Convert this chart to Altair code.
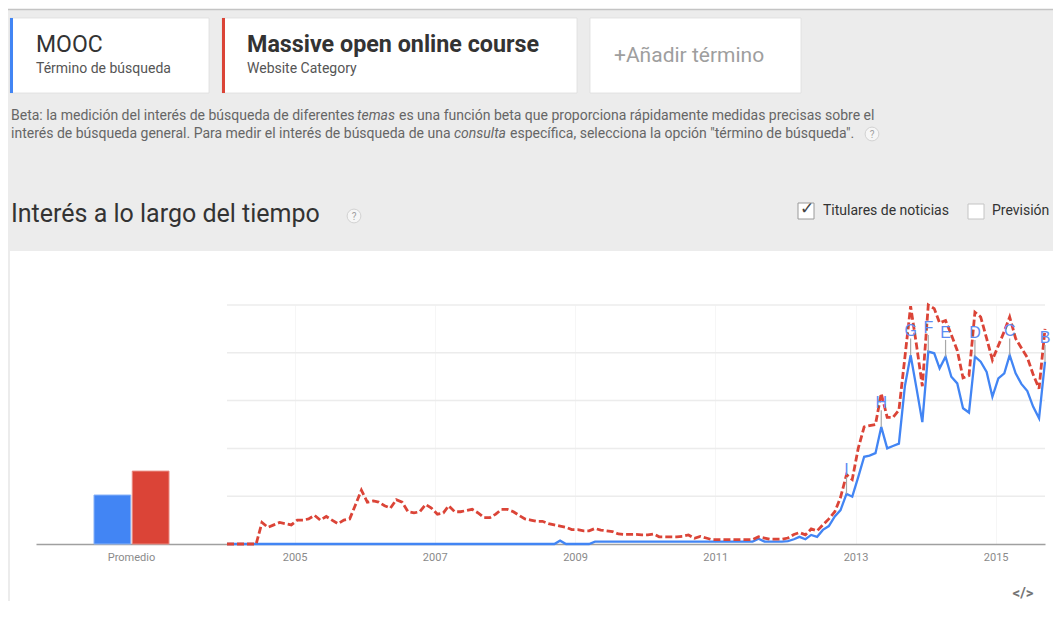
import altair as alt
import pandas as pd

# ---------------- data ----------------
series_names = ["MOOC", "Massive open online course"]
first_month = "2004-01-01"
last_month = "2015-09-01"

mooc_2004 = [0, 0, 0, 0, 0, 0, 0, 0, 0, 0, 0, 0]
mooc_2005 = [0, 0, 0, 0, 0, 0, 0, 0, 0, 0, 0, 0]
mooc_2006 = [0, 0, 0, 0, 0, 0, 0, 0, 0, 0, 0, 0]
mooc_2007 = [0, 0, 0, 0, 0, 0, 0, 0, 0, 0, 0, 0]
mooc_2008 = [0, 0, 0, 0, 0, 0, 0, 0, 0, 1.4, 0, 0]
mooc_2009 = [0, 0, 0, 1, 1, 1, 1, 1, 1, 1, 1, 1]
mooc_2010 = [1, 1, 1, 1, 1, 1, 1, 1, 1, 1, 1, 1]
mooc_2011 = [1, 1, 1, 1, 1, 1, 1, 2.2, 1, 1, 1, 1]
mooc_2012 = [1.2, 2, 3, 2, 3.8, 3, 5.9, 7.5, 11.5, 14.2, 21, 19.8]
mooc_2013 = [28, 36.5, 37, 38, 49, 40, 41, 42, 66, 79, 65, 51]
mooc_2014 = [80.5, 79.8, 73.5, 78.4, 70, 67.2, 56.8, 55, 78.4, 76.3, 72, 61.6]
mooc_2015 = [69.3, 71.4, 79, 71.4, 67, 64, 57.5, 52.6, 76.3]

massive_2004 = [0, 0, 0, 0, 0, 0, 9, 7, 8, 9, 8.5, 8]
massive_2005 = [10, 10, 10.5, 12, 10, 11.5, 10, 8.5, 10, 10.5, 16.5, 22.5]
massive_2006 = [17.5, 18, 17.5, 16, 15, 18.5, 17.5, 13.5, 13, 13.5, 16.5, 15]
massive_2007 = [12.5, 13, 16, 13.5, 13.5, 14, 14.5, 13, 11, 11, 12.5, 14.5]
massive_2008 = [14.5, 13.5, 12, 10.5, 10, 9.5, 9.5, 8.5, 8, 7.5, 7, 6]
massive_2009 = [6, 5.5, 5.5, 6.5, 5.8, 5.5, 5.2, 4.2, 4, 4, 4, 3.8]
massive_2010 = [3.8, 4.2, 3, 3, 3, 3, 3.2, 3.8, 2.4, 3.2, 2.5, 1.8]
massive_2011 = [1.8, 1.8, 1.8, 1.8, 1.8, 1.8, 1.8, 3, 2.5, 2, 2, 2]
massive_2012 = [2.5, 4, 4.8, 3.8, 6.3, 5.5, 8, 10.5, 13.5, 19.5, 29, 27]
massive_2013 = [40, 49, 49.5, 50, 63, 53, 53, 56, 78, 99.5, 83, 66]
massive_2014 = [100, 98.5, 92.5, 93.5, 87.5, 81, 69.5, 70.5, 97, 95, 86, 77]
massive_2015 = [83, 89, 95, 86, 82, 78, 71, 65, 90]

promedio = [20.5, 30.5]
promedio_label = "Promedio"

marker_letters = ["I", "H", "G", "F", "E", "D", "C", "B"]
marker_months = ["2012-11", "2013-05", "2013-10", "2014-01", "2014-04", "2014-09", "2015-03", "2015-09"]

year_ticks = [2005, 2007, 2009, 2011, 2013, 2015]
grid_values = [20, 40, 60, 80, 100]

mooc = (mooc_2004 + mooc_2005 + mooc_2006 + mooc_2007 + mooc_2008 + mooc_2009 +
        mooc_2010 + mooc_2011 + mooc_2012 + mooc_2013 + mooc_2014 + mooc_2015)
massive = (massive_2004 + massive_2005 + massive_2006 + massive_2007 + massive_2008 +
           massive_2009 + massive_2010 + massive_2011 + massive_2012 + massive_2013 +
           massive_2014 + massive_2015)

month_starts = pd.date_range(first_month, last_month, freq="MS")
month_keys = [d.strftime("%Y-%m") for d in month_starts]
fechas = [(d + pd.Timedelta(days=14)).strftime("%Y-%m-%d") for d in month_starts]

line_df = pd.DataFrame({"fecha": fechas, "mooc": mooc, "massive": massive})
idx = {k: i for i, k in enumerate(month_keys)}
marker_df = pd.DataFrame({
    "letra": marker_letters,
    "fecha": [fechas[idx[m]] for m in marker_months],
    "valor": [mooc[idx[m]] for m in marker_months],
})
bar_df = pd.DataFrame({"grupo": [promedio_label] * 2, "serie": series_names, "valor": promedio})
grid_df = pd.DataFrame({"g": grid_values})

# ---------------- style ----------------
BLUE = "#4285f4"
RED = "#db4437"
GRAY_BG = "#ececec"
FONT = "Roboto"
W, H = 818, 239

x_scale = alt.Scale(domain=[alt.DateTime(year=2004, month=1, date=15),
                            alt.DateTime(year=2015, month=9, date=15)])
y_scale = alt.Scale(domain=[0, 100], nice=False, zero=True)
x_axis = alt.Axis(values=[alt.DateTime(year=y, month=1, date=1) for y in year_ticks],
                  format="%Y", orient="bottom", title=None, ticks=False,
                  grid=True, gridColor="#f6f6f6", domainColor="#a0a0a0", domainWidth=1.5,
                  labelColor="#8a8a8a", labelFont=FONT, labelFontSize=11, labelPadding=7)

# ---------------- UI helpers ----------------
def one():
    return pd.DataFrame({"k": [0]})


def txt(s, x, y, size, color, weight="normal", style="normal", font=FONT, align="left"):
    return alt.Chart(pd.DataFrame({"t": [s]})).mark_text(
        align=align, baseline="middle", fontSize=size, color=color,
        fontWeight=weight, fontStyle=style, font=font
    ).encode(x=alt.value(x), y=alt.value(y), text="t:N")


def box(x, x2, y, y2, fill, stroke=None, sw=0.0):
    kw = dict(fill=fill)
    if stroke:
        kw.update(stroke=stroke, strokeWidth=sw)
    return alt.Chart(one()).mark_rect(**kw).encode(
        x=alt.value(x), x2=alt.value(x2), y=alt.value(y), y2=alt.value(y2))


def qicon(x, y):
    c = alt.Chart(one()).mark_point(shape="circle", filled=True, fill="#f6f6f6",
                                    stroke="#d2d2d2", strokeWidth=1, size=190, opacity=1).encode(
        x=alt.value(x), y=alt.value(y))
    return [c, txt("?", x, y + 0.5, 10, "#a0a0a0", align="center")]


ui = []
# gray page header area
ui.append(box(-219, 826, -295, -54, GRAY_BG))
ui.append(box(-219, -217, -54, 296, GRAY_BG))
ui.append(alt.Chart(one()).mark_rule(color="#c4c4c4", strokeWidth=1.5).encode(
    x=alt.value(-219), x2=alt.value(826), y=alt.value(-295.5)))
# term cards
ui.append(box(-217, -18, -287, -212, "white", "#dedede", 0.8))
ui.append(box(-217, -214, -287, -212, BLUE))
ui.append(box(-5, 350, -287, -212, "white", "#dedede", 0.8))
ui.append(box(-5, -2, -287, -212, RED))
ui.append(box(363, 574, -287, -212, "white", "#dedede", 0.8))
ui.append(txt("MOOC", -191, -260, 23, "#333333"))
ui.append(txt("Término de búsqueda", -191, -236, 14, "#555555"))
ui.append(txt("Massive open online course", 20, -260, 23.3, "#333333", weight="bold"))
ui.append(txt("Website Category", 20, -236, 14, "#555555"))
ui.append(txt("+Añadir término", 387, -249, 21, "#9e9e9e"))
# beta note
ui.append(txt("Beta: la medición del interés de búsqueda de diferentes", -216, -189, 14, "#666666"))
ui.append(txt("temas", 130, -189, 14, "#666666", style="italic"))
ui.append(txt("es una función beta que proporciona rápidamente medidas precisas sobre el",
              172, -189, 14, "#666666"))
ui.append(txt("interés de búsqueda general. Para medir el interés de búsqueda de una",
              -216, -171, 14, "#666666"))
ui.append(txt("consulta", 227, -171, 14, "#666666", style="italic"))
ui.append(txt("específica, selecciona la opción \"término de búsqueda\".", 283, -171, 14, "#666666"))
ui += qicon(645, -171)
# section title
ui.append(txt("Interés a lo largo del tiempo", -216, -91, 25, "#333333"))
ui += qicon(127, -89)
# checkboxes
ui.append(box(571, 587, -102, -86, "white", "#9a9a9a", 1))
ui.append(txt("✓", 580, -96, 17, "#444444", font="DejaVu Sans", align="center"))
ui.append(txt("Titulares de noticias", 596, -94, 14, "#333333"))
ui.append(box(741, 757, -101, -86, "white", "#c4c4c4", 1))
ui.append(txt("Previsión", 765, -94, 14, "#333333"))
# embed icon
ui.append(txt("</>", 796, 288, 15, "#757575", weight="bold", align="center"))

# ---------------- gridlines ----------------
grid = alt.Chart(grid_df).mark_rule(color="#ececec", strokeWidth=1.5).encode(
    x=alt.value(0), x2=alt.value(W),
    y=alt.Y("g:Q", scale=y_scale, axis=None))

# ---------------- average bars ----------------
bars = alt.Chart(bar_df).mark_bar(strokeWidth=1).encode(
    x=alt.X("grupo:N", title=None,
            scale=alt.Scale(domain=[promedio_label], range=[-191, 0], paddingInner=0, paddingOuter=0.773),
            axis=alt.Axis(orient="bottom", ticks=False, grid=False, labelAngle=0, domainColor="#a0a0a0",
                          domainWidth=1.5, labelColor="#8a8a8a", labelFont=FONT, labelFontSize=11,
                          labelPadding=7, title=None)),
    xOffset=alt.XOffset("serie:N", scale=alt.Scale(domain=series_names, paddingInner=0.04, paddingOuter=0)),
    y=alt.Y("valor:Q", scale=y_scale, axis=None),
    color=alt.Color("serie:N", scale=alt.Scale(domain=series_names, range=[BLUE, RED]), legend=None),
    stroke=alt.Stroke("serie:N", scale=alt.Scale(domain=series_names, range=["#8ab4f8", "#ea8a80"]), legend=None),
)

# ---------------- time lines ----------------
base = alt.Chart(line_df)
blue_line = base.mark_line(color=BLUE, strokeWidth=2.3).encode(
    x=alt.X("fecha:T", scale=x_scale, axis=x_axis),
    y=alt.Y("mooc:Q", scale=y_scale, axis=None))
red_line = base.mark_line(color=RED, strokeWidth=2.8, strokeDash=[7, 3]).encode(
    x=alt.X("fecha:T", scale=x_scale, axis=x_axis),
    y=alt.Y("massive:Q", scale=y_scale, axis=None))

mk = alt.Chart(marker_df).transform_calculate(tope="datum.valor + 7")
sticks = mk.mark_rule(color="#a8a8a8", strokeWidth=1.2).encode(
    x=alt.X("fecha:T", scale=x_scale, axis=x_axis),
    y=alt.Y("valor:Q", scale=y_scale, axis=None),
    y2="tope:Q")
letters = mk.mark_text(fontSize=16, font="Arial", color="#5d8cf2", baseline="middle", dy=-24).encode(
    x=alt.X("fecha:T", scale=x_scale, axis=x_axis),
    y=alt.Y("valor:Q", scale=y_scale, axis=None),
    text="letra:N")

lines = alt.layer(blue_line, red_line, sticks, letters)

chart = alt.layer(*ui, grid, bars, lines).resolve_scale(x="independent").properties(
    width=W, height=H,
    autosize=alt.AutoSizeParams(type="none"),
    padding={"left": 219, "top": 297, "right": 8, "bottom": 62},
    background="white",
).configure_view(stroke=None)

chart.save("out.html", embed_options={"renderer": "svg", "actions": False})
